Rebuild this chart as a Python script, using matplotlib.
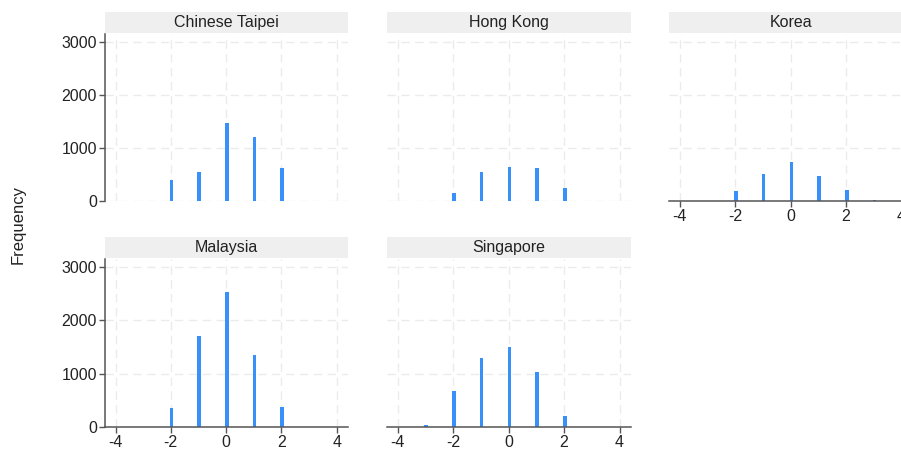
import matplotlib
matplotlib.use("Agg")
import matplotlib.pyplot as plt
from matplotlib.patches import Rectangle

plt.rcParams["font.family"] = ["Liberation Sans", "DejaVu Sans"]
plt.rcParams["axes.unicode_minus"] = False

# data
countries = ["Chinese Taipei", "Hong Kong", "Korea", "Malaysia", "Singapore"]
scores = {
    "Chinese Taipei": [-2, -1, 0, 1, 2],
    "Hong Kong": [-2, -1, 0, 1, 2],
    "Korea": [-2, -1, 0, 1, 2, 3],
    "Malaysia": [-2, -1, 0, 1, 2],
    "Singapore": [-3, -2, -1, 0, 1, 2],
}
freqs = {
    "Chinese Taipei": [402, 541, 1465, 1201, 616],
    "Hong Kong": [151, 541, 641, 623, 245],
    "Korea": [189, 503, 736, 465, 208, 25],
    "Malaysia": [362, 1700, 2537, 1356, 381],
    "Singapore": [31, 678, 1299, 1494, 1036, 213],
}
xticks = [-4, -2, 0, 2, 4]
yticks = [0, 1000, 2000, 3000]

W, H = 901, 449
fig = plt.figure(figsize=(W / 100, H / 100), dpi=100)

bar_color = "#3891fb"
axis_color = "#555555"
grid_color = "#ebebeb"

# pixel boxes (left, top, right, bottom)
cols = [(105, 348), (387, 631), (669, 913)]
rows = [(34, 201), (259, 427)]
layout = {
    "Chinese Taipei": (0, 0),
    "Hong Kong": (0, 1),
    "Korea": (0, 2),
    "Malaysia": (1, 0),
    "Singapore": (1, 1),
}
show_y = {"Chinese Taipei", "Malaysia"}
show_x = {"Korea", "Malaysia", "Singapore"}


def px_axes(l, t, r, b):
    return fig.add_axes([l / W, 1 - b / H, (r - l) / W, (b - t) / H])


for name in countries:
    ri, ci = layout[name]
    l, r = cols[ci]
    t, b = rows[ri]
    ax = px_axes(l, t, r, b)
    ax.set_facecolor("white")

    ax.bar([x + 0.03 for x in scores[name]], freqs[name], width=0.13,
           color=bar_color, edgecolor="none", zorder=3)

    ax.set_xlim(-4.38, 4.41)
    ax.set_ylim(0, 3150)
    ax.set_xticks(xticks)
    ax.set_yticks(yticks)

    # dashed grid
    for xv in xticks:
        ax.axvline(xv, color=grid_color, lw=1, ls=(0, (6, 4)), zorder=1)
    for yv in yticks:
        ax.axhline(yv, color=grid_color, lw=1, ls=(0, (6, 4)), zorder=1)

    for s in ["top", "right"]:
        ax.spines[s].set_visible(False)
    ax.spines["left"].set_visible(name in show_y)
    ax.spines["bottom"].set_visible(name in show_x)
    for s in ["left", "bottom"]:
        ax.spines[s].set_color(axis_color)
        ax.spines[s].set_linewidth(1.1)
        ax.spines[s].set_zorder(4)

    ax.tick_params(axis="y", left=name in show_y, labelleft=name in show_y,
                   length=4.3, width=1, color=axis_color, labelsize=11.5,
                   labelcolor="#222222", pad=1.5)
    ax.tick_params(axis="x", bottom=name in show_x, labelbottom=name in show_x,
                   length=4, width=1, color=axis_color, labelsize=11.5,
                   labelcolor="#222222", pad=1.5)

    # title strip
    strip_h = 21 / (b - t)
    ax.add_patch(Rectangle((0, 1 + 1 / (b - t)), 1, strip_h, transform=ax.transAxes,
                           facecolor="#efefef", edgecolor="none", clip_on=False))
    ax.text(0.5, 1 + 1 / (b - t) + strip_h / 2, name, transform=ax.transAxes,
            ha="center", va="center", fontsize=11.5, color="#222222")

fig.text(18 / W, 1 - 224 / H, "Frequency", rotation=90, ha="center", va="center",
         fontsize=12, color="#222222")

fig.savefig("out.png", dpi=100)
